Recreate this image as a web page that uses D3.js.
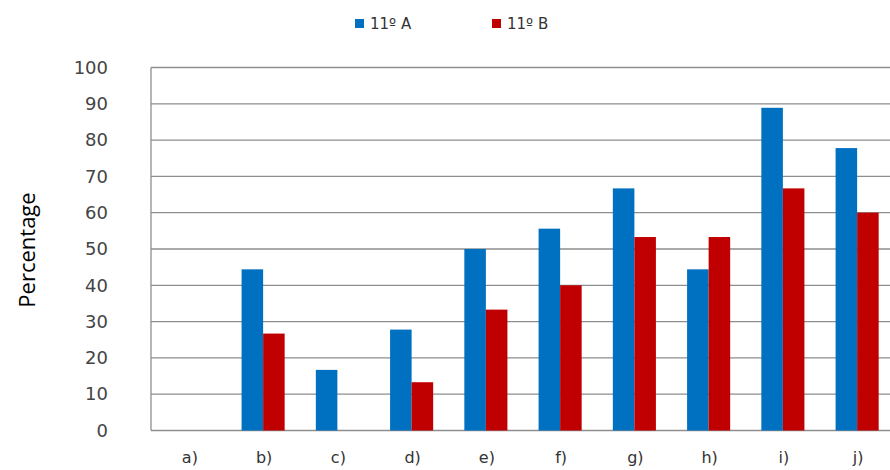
<!DOCTYPE html>
<html>
<head>
<meta charset="utf-8">
<script src="https://cdn.jsdelivr.net/npm/d3@7"></script>
<style>
  body { margin: 0; background: #fff; }
  .tick-y text { font-family: "DejaVu Sans", Verdana, sans-serif; font-size: 18px; fill: #444; }
  .cat-label { font-family: "DejaVu Sans", Verdana, sans-serif; font-size: 16px; fill: #333; }
  .legend text { font-family: "DejaVu Sans", Verdana, sans-serif; font-size: 15px; fill: #333; }
  .y-label { font-family: "Open Sans", "Noto Sans", sans-serif; font-size: 22px; fill: #000; }
</style>
</head>
<body>
<div id="chart"></div>
<script>
const categories = ['a)', 'b)', 'c)', 'd)', 'e)', 'f)', 'g)', 'h)', 'i)', 'j)'];
const seriesNames = ['11º A', '11º B'];
const classA = [0, 44.4, 16.7, 27.8, 50, 55.6, 66.7, 44.4, 88.9, 77.8];
const classB = [0, 26.7, 0, 13.3, 33.3, 40, 53.3, 53.3, 66.7, 60];
const yTicks = [0, 10, 20, 30, 40, 50, 60, 70, 80, 90, 100];
const colors = ['#0070c0', '#c00000'];

const width = 890, height = 470;
const margins = { top: 67.5, right: -5, bottom: 39.5, left: 151 };

const svg = d3.select('#chart').append('svg')
    .attr('width', width)
    .attr('height', height);

const x0 = d3.scaleBand()
    .domain(categories)
    .range([margins.left, width - margins.right])
    .paddingInner(0.42)
    .paddingOuter(0.22);

const x1 = d3.scaleBand()
    .domain(seriesNames)
    .range([0, x0.bandwidth()]);

const y = d3.scaleLinear()
    .domain([0, 100])
    .range([height - margins.bottom, margins.top]);

// Grid lines
svg.append('g')
    .selectAll('line')
    .data(yTicks)
    .join('line')
    .attr('x1', margins.left)
    .attr('x2', width)
    .attr('y1', d => y(d))
    .attr('y2', d => y(d))
    .attr('stroke', '#8e8e8e')
    .attr('stroke-width', 1.3);

// Left border
svg.append('line')
    .attr('x1', margins.left)
    .attr('x2', margins.left)
    .attr('y1', y(100))
    .attr('y2', y(0))
    .attr('stroke', '#8e8e8e')
    .attr('stroke-width', 1.3);

// Y axis labels
const yAxis = d3.axisLeft(y).tickValues(yTicks).tickSize(0).tickPadding(0);
svg.append('g')
    .attr('class', 'tick-y')
    .attr('transform', 'translate(108,0)')
    .call(yAxis)
    .call(g => g.select('.domain').remove());

// Bars
const rows = categories.map((c, i) => ({ cat: c, values: [classA[i], classB[i]] }));

svg.append('g')
    .selectAll('g')
    .data(rows)
    .join('g')
    .attr('transform', d => `translate(${x0(d.cat)},0)`)
    .selectAll('rect')
    .data(d => d.values.map((v, j) => ({ name: seriesNames[j], value: v, j })))
    .join('rect')
    .filter(d => d.value > 0)
    .attr('x', d => x1(d.name))
    .attr('width', x1.bandwidth())
    .attr('y', d => y(d.value))
    .attr('height', d => y(0) - y(d.value))
    .attr('fill', d => colors[d.j]);

// Category labels
svg.append('g')
    .selectAll('text')
    .data(categories)
    .join('text')
    .attr('class', 'cat-label')
    .attr('x', d => x0(d) + x0.bandwidth() / 2 + 1)
    .attr('y', 463)
    .attr('text-anchor', 'middle')
    .text(d => d);

// Y label
svg.append('text')
    .attr('class', 'y-label')
    .attr('text-anchor', 'middle')
    .attr('transform', 'rotate(-90)')
    .attr('x', -250)
    .attr('y', 35)
    .text('Percentage');

// Legend
const legendX = [355, 492];
const legend = svg.append('g').attr('class', 'legend')
    .selectAll('g')
    .data(seriesNames)
    .join('g')
    .attr('transform', (d, i) => `translate(${legendX[i]},19)`);

legend.append('rect')
    .attr('width', 9)
    .attr('height', 9)
    .attr('fill', (d, i) => colors[i]);

legend.append('text')
    .attr('x', 15)
    .attr('y', 10)
    .text(d => d);
</script>
</body>
</html>
